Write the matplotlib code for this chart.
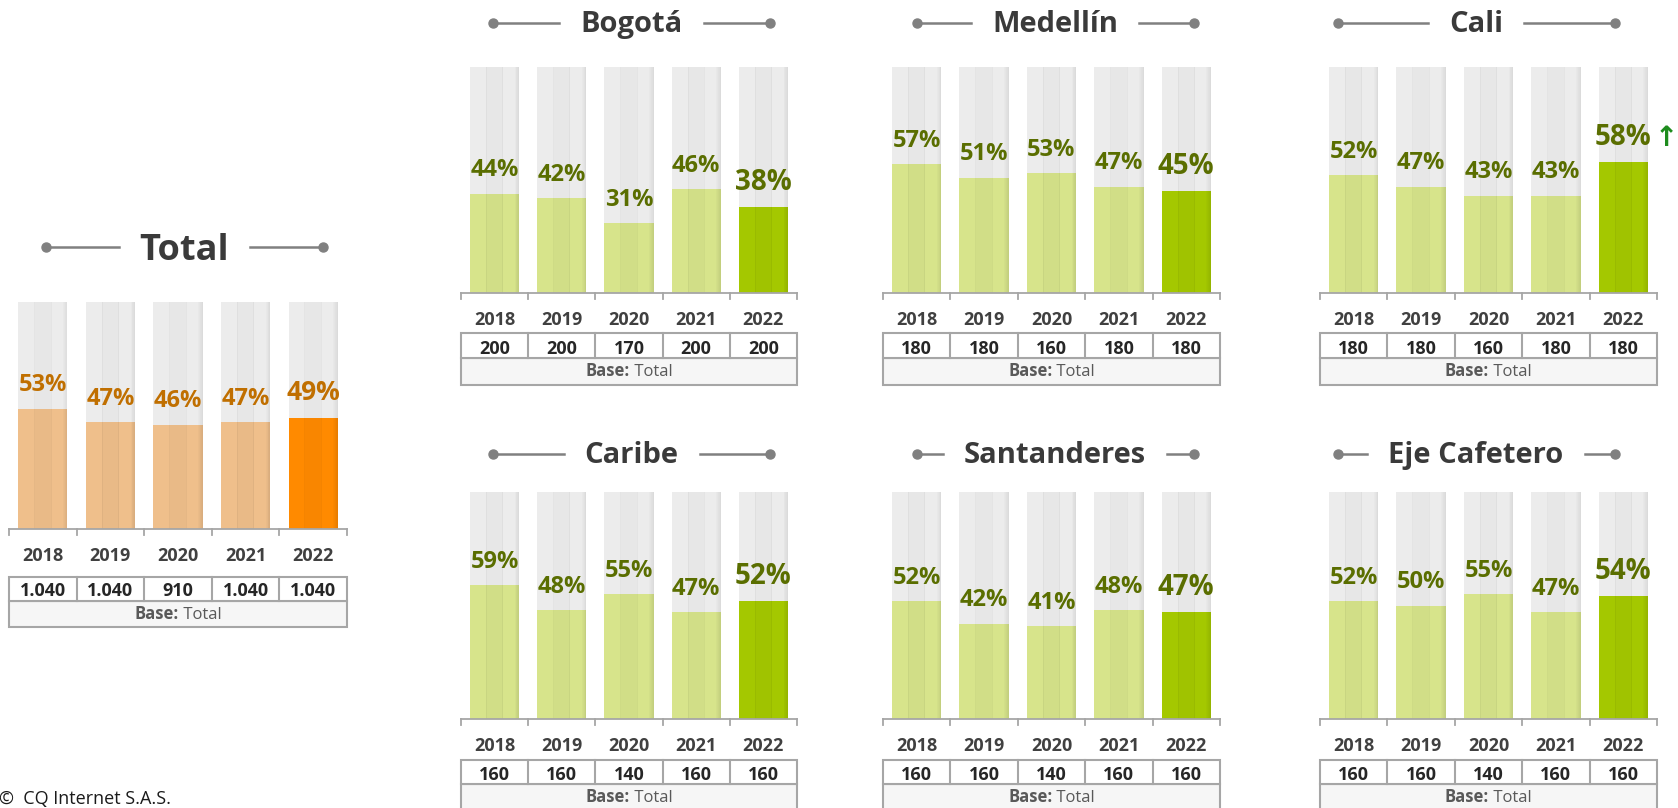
import numpy as np
import matplotlib
matplotlib.use("Agg")
import matplotlib.pyplot as plt
from matplotlib.lines import Line2D
from matplotlib.patches import Rectangle

plt.rcParams['font.family'] = ['Open Sans', 'DejaVu Sans']

# ---------------- data ----------------
years = ['2018', '2019', '2020', '2021', '2022']

total_vals = [53, 47, 46, 47, 49]
total_bases = ['1.040', '1.040', '910', '1.040', '1.040']

bogota_vals = [44, 42, 31, 46, 38]
bogota_bases = ['200', '200', '170', '200', '200']

medellin_vals = [57, 51, 53, 47, 45]
medellin_bases = ['180', '180', '160', '180', '180']

cali_vals = [52, 47, 43, 43, 58]
cali_bases = ['180', '180', '160', '180', '180']

caribe_vals = [59, 48, 55, 47, 52]
caribe_bases = ['160', '160', '140', '160', '160']

santanderes_vals = [52, 42, 41, 48, 47]
santanderes_bases = ['160', '160', '140', '160', '160']

eje_vals = [52, 50, 55, 47, 54]
eje_bases = ['160', '160', '140', '160', '160']

base_label = 'Total'

# ---------------- style ----------------
W, H = 1678, 808
fig = plt.figure(figsize=(W / 100, H / 100), dpi=100)
renderer = fig.canvas.get_renderer()

GREEN = dict(light='#d7e48b', dark='#a4c800', label='#5a6e00')
ORANGE = dict(light='#efbf8b', dark='#ff8a00', label='#c06f00')
GRID = '#a6a6a6'
DECOR = '#808080'
TXT = '#404040'


def fx(x):
    return x / W


def fy(y):
    return 1 - y / H


def fline(x0, y0, x1, y1, **kw):
    fig.add_artist(Line2D([fx(x0), fx(x1)], [fy(y0), fy(y1)], transform=fig.transFigure, **kw))


def stripes(ax, xs, heights, bw, strength, z):
    # middle third slightly darker
    ax.bar(xs, heights, width=bw / 3, color='black', alpha=0.018 * strength, zorder=z, linewidth=0)
    # thin separation lines
    for s in (-bw / 6, bw / 6):
        ax.bar(xs + s, heights, width=bw * 0.02, color='black', alpha=0.03 * strength, zorder=z, linewidth=0)
    # right-edge shading
    nstep = 5
    for k in range(nstep):
        ax.bar(xs + bw / 2 - (k + 0.5) * bw * 0.018, heights, width=bw * 0.018, color='black',
               alpha=0.07 * strength * (nstep - k) / nstep, zorder=z, linewidth=0)


def draw_panel(title, vals, bases, left, right, top, base, years_base, t0, t1, t2,
               base_txt_y, title_base, title_line_y, group_c, title_size, pal,
               lab_size=17, lab_size_last=20, arrow=False):
    ax = fig.add_axes([fx(left), fy(base), fx(right) - fx(left), fy(top) - fy(base)])
    ax.set_xlim(-0.5, 4.5)
    ax.set_ylim(0, 1)
    ax.axis('off')
    n = len(vals)
    xs = np.arange(n)
    bw = 0.73
    ones = np.ones(n)
    h = np.array(vals) / 100.0
    ax.bar(xs, ones, width=bw, color='#ececec', zorder=1, linewidth=0)
    stripes(ax, xs, ones, bw, 1.0, 1.5)
    cols = [pal['light']] * (n - 1) + [pal['dark']]
    ax.bar(xs, h, width=bw, color=cols, zorder=2, linewidth=0)
    stripes(ax, xs, h, bw, 1.3, 2.5)

    for i, v in enumerate(vals):
        last = i == n - 1
        ax.annotate(f'{v}%', (xs[i], h[i]), xytext=(0, 12.5), textcoords='offset points',
                    ha='center', va='baseline', fontsize=lab_size_last if last else lab_size,
                    fontweight='bold', color=pal['label'], annotation_clip=False, zorder=5)
    if arrow:
        ax.annotate('\u2191', (xs[-1], h[-1]), xytext=(31, 11.5), textcoords='offset points',
                    ha='center', va='baseline', fontsize=20, fontweight='bold', family='DejaVu Sans',
                    color='#1e8c1e', annotation_clip=False)

    # axis line & ticks
    cw = (right - left) / n
    fline(left, base, right, base, color=GRID, lw=1.3)
    for k in range(n + 1):
        xk = left + k * cw
        fline(xk, base, xk, base + 6, color=GRID, lw=1.3)

    # years
    for i, y in enumerate(years):
        fig.text(fx(left + (i + 0.5) * cw), fy(years_base), y, ha='center', va='baseline',
                 fontsize=13, fontweight='bold', color=TXT)

    # table
    fig.add_artist(Rectangle((fx(left), fy(t2)), fx(right) - fx(left), fy(t1) - fy(t2),
                             transform=fig.transFigure, facecolor='#f6f6f6', edgecolor=GRID, lw=1.5))
    fig.add_artist(Rectangle((fx(left), fy(t1)), fx(right) - fx(left), fy(t0) - fy(t1),
                             transform=fig.transFigure, facecolor='white', edgecolor=GRID, lw=1.5))
    for k in range(1, n):
        xk = left + k * cw
        fline(xk, t0, xk, t1, color=GRID, lw=1.5)
    for i, b in enumerate(bases):
        fig.text(fx(left + (i + 0.5) * cw), fy(t1 - 4.5), b, ha='center', va='baseline',
                 fontsize=13, fontweight='bold', color='#262626')
    # "Base: Total"
    t_a = fig.text(0, 0, 'Base:', fontsize=12, fontweight='bold', color='#595959')
    t_b = fig.text(0, 0, ' ' + base_label, fontsize=12, color='#595959')
    wa = t_a.get_window_extent(renderer).width
    wb = t_b.get_window_extent(renderer).width
    cx = (left + right) / 2
    x0 = cx - (wa + wb) / 2
    t_a.set_position((fx(x0), fy(base_txt_y)))
    t_b.set_position((fx(x0 + wa), fy(base_txt_y)))

    # title with decor lines
    tt = fig.text(fx(group_c), fy(title_base), title, ha='center', va='baseline',
                  fontsize=title_size, fontweight='bold', color='#3a3a3a')
    bb = tt.get_window_extent(renderer)
    tl, tr = bb.x0, bb.x1
    dl, dr = group_c - 138.5, group_c + 138.5
    gap = 21
    fline(dl, title_line_y, tl - gap, title_line_y, color=DECOR, lw=1.8)
    fline(tr + gap, title_line_y, dr, title_line_y, color=DECOR, lw=1.8)
    fig.add_artist(Line2D([fx(dl), fx(dr)], [fy(title_line_y)] * 2, transform=fig.transFigure,
                          ls='none', marker='o', ms=6.5, color=DECOR))


# total panel
draw_panel('Total', total_vals, total_bases, 9, 347, 302, 529, 561, 577, 601, 627, 619,
           260, 247, 184.5, 26, ORANGE, lab_size=17, lab_size_last=19)

cols = [(461, 797, 631.5), (883, 1220, 1055), (1320, 1657, 1476)]
top_row = [('Bogotá', bogota_vals, bogota_bases, False),
           ('Medellín', medellin_vals, medellin_bases, False),
           ('Cali', cali_vals, cali_bases, True)]
bot_row = [('Caribe', caribe_vals, caribe_bases, False),
           ('Santanderes', santanderes_vals, santanderes_bases, False),
           ('Eje Cafetero', eje_vals, eje_bases, False)]

for (l, r, gc), (name, v, b, arr) in zip(cols, top_row):
    draw_panel(name, v, b, l, r, 67, 293, 325, 333, 358, 385, 376, 32, 23, gc, 21, GREEN, arrow=arr)

for (l, r, gc), (name, v, b, arr) in zip(cols, bot_row):
    draw_panel(name, v, b, l, r, 492, 719, 751, 760, 784, 811, 802, 463, 454, gc, 21, GREEN, arrow=arr)

fig.text(fx(-1), fy(804), '\u00a9  CQ Internet S.A.S.', ha='left', va='baseline',
         fontsize=13, color='#1a1a1a')

fig.savefig('out.png', dpi=100)
